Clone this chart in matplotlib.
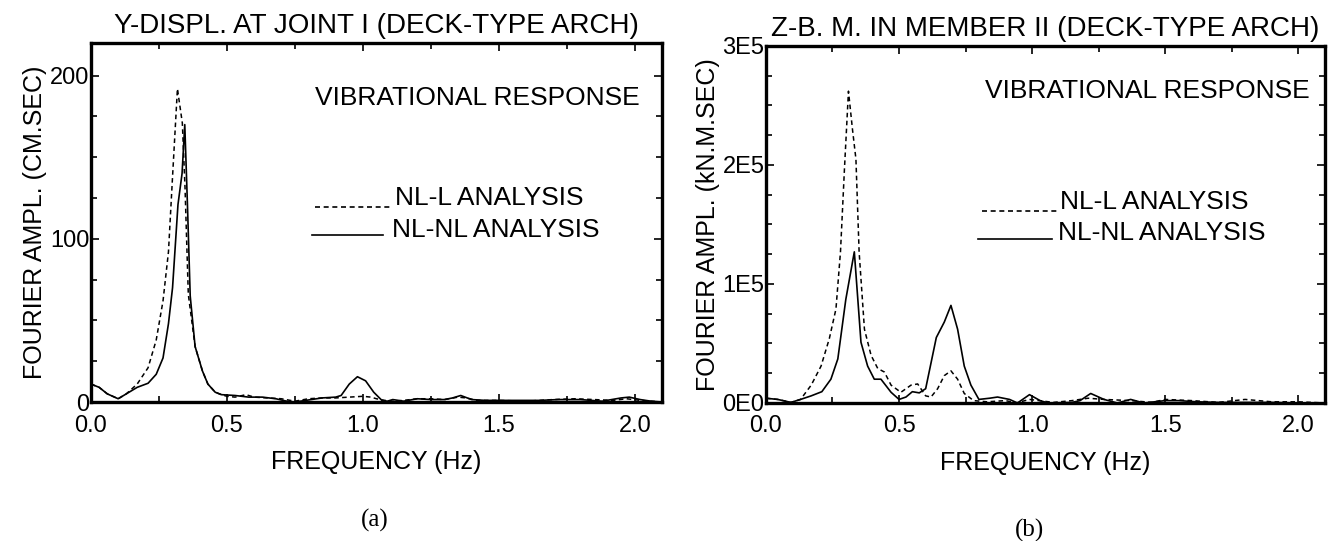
import matplotlib
matplotlib.use("Agg")
import matplotlib.pyplot as plt
from matplotlib.ticker import MultipleLocator, FuncFormatter
from matplotlib import font_manager

# (a) Y-displacement at joint I, values in CM.SEC
freq_a_nl = [0.00, 0.03, 0.06, 0.10, 0.13, 0.17, 0.21, 0.24, 0.265, 0.285, 0.30, 0.32,
             0.335, 0.345, 0.355, 0.365, 0.383, 0.41, 0.43, 0.457, 0.48, 0.53, 0.58,
             0.63, 0.68, 0.72, 0.75, 0.79, 0.85, 0.90, 0.92, 0.95, 0.98, 1.01, 1.04,
             1.07, 1.09, 1.11, 1.15, 1.20, 1.25, 1.30, 1.33, 1.36, 1.40, 1.45, 1.55,
             1.65, 1.72, 1.80, 1.88, 1.95, 1.98, 2.02, 2.06, 2.10]
amp_a_nl = [11, 9, 5, 2, 5, 9, 11.5, 17, 27, 48, 70, 121,
            140, 170, 120, 65, 34, 19, 11, 6, 4.5, 4, 3,
            3, 2, 0.5, 0, 1, 2.5, 3, 4, 11, 15.5, 13, 6,
            1, 0.5, 1.5, 0.5, 2, 1.5, 1.5, 2.5, 4, 1.5, 1, 1,
            1, 1.5, 1.5, 0.5, 2.5, 3, 1.5, 0.5, 0]

freq_a_l = [0.00, 0.03, 0.06, 0.10, 0.13, 0.17, 0.21, 0.24, 0.265, 0.285, 0.30, 0.318,
            0.336, 0.346, 0.358, 0.383, 0.41, 0.43, 0.457, 0.48, 0.50, 0.53, 0.57,
            0.60, 0.65, 0.70, 0.75, 0.80, 0.85, 0.90, 0.95, 1.00, 1.03, 1.05, 1.08,
            1.11, 1.15, 1.20, 1.25, 1.30, 1.35, 1.38, 1.42, 1.50, 1.60, 1.70, 1.78,
            1.85, 1.92, 1.97, 2.02, 2.06, 2.10]
amp_a_l = [11, 9, 5, 2, 5, 11, 21, 38, 62, 92, 138, 192,
           171, 131, 66, 34, 19, 11, 6, 4.5, 3.5, 3, 4.5,
           3, 2.5, 2, 0.5, 2, 2.5, 2.5, 3, 3.5, 3, 2, 1,
           0.5, 1, 2, 2, 1.5, 3, 2.5, 1, 1, 0.5, 1.5, 2,
           1.5, 1, 2, 1, 0.5, 0]

# (b) Z-bending moment in member II, values in kN.M.SEC
freq_b_nl = [0.00, 0.044, 0.094, 0.13, 0.17, 0.21, 0.244, 0.27, 0.30, 0.332, 0.357,
             0.382, 0.407, 0.432, 0.47, 0.50, 0.526, 0.55, 0.576, 0.60, 0.64, 0.67,
             0.695, 0.72, 0.745, 0.77, 0.80, 0.84, 0.87, 0.915, 0.945, 0.99, 1.03,
             1.06, 1.15, 1.18, 1.22, 1.27, 1.32, 1.37, 1.42, 1.50, 1.55, 1.62, 1.70,
             1.80, 1.90, 2.00, 2.10]
amp_b_nl = [0.04e5, 0.03e5, 0.005e5, 0.03e5, 0.06e5, 0.095e5, 0.2e5, 0.37e5, 0.87e5,
            1.27e5, 0.51e5, 0.31e5, 0.2e5, 0.2e5, 0.09e5, 0.03e5, 0.05e5, 0.095e5,
            0.085e5, 0.12e5, 0.55e5, 0.68e5, 0.82e5, 0.62e5, 0.31e5, 0.15e5, 0.03e5,
            0.04e5, 0.05e5, 0.03e5, 0.0, 0.07e5, 0.02e5, 0.0, 0.005e5, 0.02e5, 0.08e5,
            0.03e5, 0.0, 0.03e5, 0.0, 0.02e5, 0.02e5, 0.01e5, 0.005e5, 0.005e5,
            0.005e5, 0.0, 0.0]

freq_b_l = [0.00, 0.044, 0.094, 0.13, 0.17, 0.207, 0.238, 0.263, 0.28, 0.295, 0.31,
            0.325, 0.338, 0.35, 0.37, 0.395, 0.42, 0.445, 0.47, 0.507, 0.545, 0.57,
            0.60, 0.62, 0.645, 0.67, 0.695, 0.72, 0.745, 0.78, 0.83, 0.90, 0.94, 0.99,
            1.08, 1.15, 1.21, 1.27, 1.37, 1.45, 1.50, 1.60, 1.70, 1.80, 1.90, 2.00, 2.10]
amp_b_l = [0.04e5, 0.03e5, 0.005e5, 0.03e5, 0.15e5, 0.31e5, 0.54e5, 0.79e5, 1.27e5,
           1.97e5, 2.62e5, 2.3e5, 2.05e5, 1.27e5, 0.62e5, 0.4e5, 0.29e5, 0.26e5,
           0.15e5, 0.09e5, 0.15e5, 0.16e5, 0.06e5, 0.05e5, 0.12e5, 0.23e5, 0.27e5,
           0.2e5, 0.08e5, 0.02e5, 0.01e5, 0.02e5, 0.0, 0.03e5, 0.005e5, 0.02e5,
           0.04e5, 0.03e5, 0.02e5, 0.005e5, 0.03e5, 0.02e5, 0.005e5, 0.03e5, 0.01e5,
           0.01e5, 0.0]

titles = ["Y-DISPL. AT JOINT I (DECK-TYPE ARCH)", "Z-B. M. IN MEMBER II (DECK-TYPE ARCH)"]
ylabels = ["FOURIER AMPL. (CM.SEC)", "FOURIER AMPL. (kN.M.SEC)"]
xlabel = "FREQUENCY (Hz)"
note = "VIBRATIONAL RESPONSE"
labels = ["NL-L ANALYSIS", "NL-NL ANALYSIS"]
captions = ["(a)", "(b)"]

# pick a narrow sans if the box has one
names = {f.name for f in font_manager.fontManager.ttflist}
SANS = "Liberation Sans Narrow" if "Liberation Sans Narrow" in names else "Liberation Sans"
plt.rcParams["font.family"] = SANS

DASH = (0, (3.0, 2.2))


def setup_axes(ax, ylim, ystep, fmt):
	ax.set_xlim(0, 2.1)
	ax.set_ylim(*ylim)
	ax.xaxis.set_major_locator(MultipleLocator(0.5))
	ax.xaxis.set_minor_locator(MultipleLocator(0.25))
	ax.yaxis.set_major_locator(MultipleLocator(ystep))
	ax.yaxis.set_minor_locator(MultipleLocator(ystep / 4))
	ax.xaxis.set_major_formatter(FuncFormatter(lambda v, p: "%.1f" % v))
	ax.yaxis.set_major_formatter(FuncFormatter(fmt))
	ax.tick_params(which="both", direction="in", top=True, right=True, width=1.2)
	ax.tick_params(which="major", length=6)
	ax.tick_params(which="minor", length=4)
	ax.tick_params(axis="x", labelsize=17, pad=9)
	ax.tick_params(axis="y", labelsize=17, pad=1)
	for s in ax.spines.values():
		s.set_linewidth(2.4)


def draw_key(ax, x0, x1, y, ty, tx, ls, text):
	# hand drawn key, like the original figure
	ax.plot([x0, x1], [y, y], color="black", lw=1.2, linestyle=ls, transform=ax.transAxes)
	ax.text(tx, ty, text, transform=ax.transAxes, fontsize=19, va="center", ha="left")


def panel(ax, fl, al, fn, an, title, ylab, keys, note_pos):
	ax.plot(fl, al, color="black", lw=1.1, linestyle=DASH)
	ax.plot(fn, an, color="black", lw=1.2)
	ax.set_title(title, fontsize=20, pad=7)
	ax.set_xlabel(xlabel, fontsize=18, labelpad=10)
	ax.set_ylabel(ylab, fontsize=18, labelpad=2)
	ax.text(note_pos[0], note_pos[1], note, transform=ax.transAxes,
			fontsize=19, ha="right", va="center")
	for k in keys:
		draw_key(ax, *k)


def main():
	fig = plt.figure(figsize=(13.3, 5.41), dpi=100)
	ax1 = fig.add_axes([0.0684, 0.2569, 0.4293, 0.6636])
	ax2 = fig.add_axes([0.5759, 0.2551, 0.4203, 0.6600])

	setup_axes(ax1, (0, 220), 100, lambda v, p: "%d" % v)
	setup_axes(ax2, (0, 3e5), 1e5, lambda v, p: "%dE%d" % (round(v / 1e5), 0 if v == 0 else 5))

	panel(ax1, freq_a_l, amp_a_l, freq_a_nl, amp_a_nl, titles[0], ylabels[0],
		  [(0.392, 0.524, 0.543, 0.568, 0.532, DASH, labels[0]),
		   (0.387, 0.511, 0.465, 0.479, 0.527, "-", labels[1])],
		  (0.961, 0.847))
	panel(ax2, freq_b_l, amp_b_l, freq_b_nl, amp_b_nl, titles[1], ylabels[1],
		  [(0.386, 0.521, 0.538, 0.563, 0.526, DASH, labels[0]),
		   (0.379, 0.512, 0.459, 0.476, 0.522, "-", labels[1])],
		  (0.973, 0.874))

	fig.text(375 / 1330, 1 - 520 / 541, captions[0], fontsize=18,
			 family="Liberation Serif", ha="center", va="center")
	fig.text(1030 / 1330, 1 - 530 / 541, captions[1], fontsize=18,
			 family="Liberation Serif", ha="center", va="center")

	fig.savefig("out.png", dpi=100)


if __name__ == "__main__":
	main()
